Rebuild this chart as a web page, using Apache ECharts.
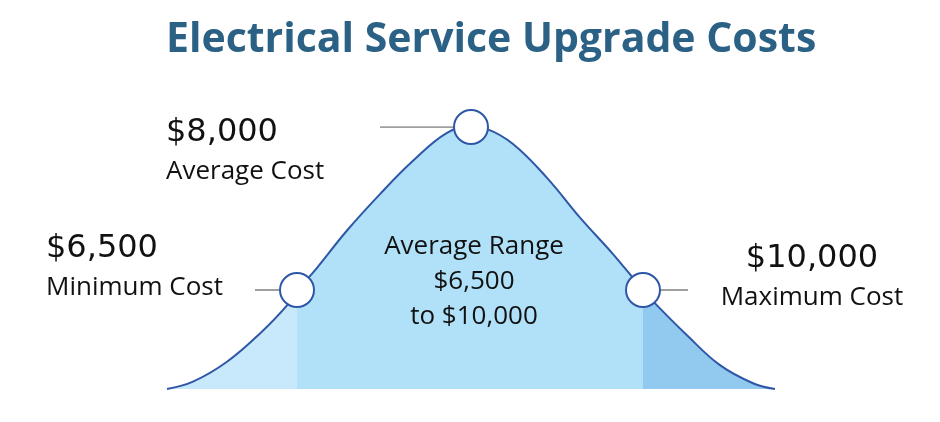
<!DOCTYPE html>
<html>
<head>
<meta charset="utf-8">
<script src="https://cdn.jsdelivr.net/npm/echarts@6/dist/echarts.min.js"></script>
<style>
  html, body { margin: 0; padding: 0; background: #ffffff; }
  #chart { width: 940px; height: 422px; }
</style>
</head>
<body>
<div id="chart"></div>
<script>
// ---- data (x: relative position along the curve, y: relative height, peak = 100)
const curveX = [0, 26, 60, 93, 120, 130, 146, 180, 213, 246, 280, 304, 320, 346, 380, 413, 446, 476, 490, 520, 553, 586, 608];
const curveY = [0, 2.8, 10.4, 21.2, 31.9, 37.8, 44.4, 60.5, 74.4, 87.1, 97.8, 100, 99.2, 93.5, 80.6, 65.4, 51.5, 37.8, 31.9, 20.5, 9.1, 2.2, 0];

const markerX = [130, 304, 476];
const markerY = [37.8, 100, 37.8];
const valueLabels = ['$6,500', '$8,000', '$10,000'];
const nameLabels = ['Minimum Cost', 'Average Cost', 'Maximum Cost'];
const leaderFromX = [88, 213, 476];
const leaderToX = [130, 304, 521];

const titleText = 'Electrical Service Upgrade Costs';
const rangeTitle = 'Average Range';

// ---- build
const curve = curveX.map((x, i) => [x, curveY[i]]);
const FONT = '"Open Sans", "Noto Sans", sans-serif';
const NUMFONT = '"DejaVu Sans", "Open Sans", sans-serif';
const BLUE = '#2f57a7';

const labelPlacement = [
  { position: [-233, -45], align: 'left' },
  { position: [-287, 2], align: 'left' },
  { position: [187, -35], align: 'center' }
];

const markers = markerX.map((x, i) => ({
  value: [x, markerY[i]],
  label: {
    show: true,
    position: labelPlacement[i].position,
    align: labelPlacement[i].align,
    verticalAlign: 'top',
    formatter: '{v|' + valueLabels[i] + '}\n{n|' + nameLabels[i] + '}',
    rich: {
      v: { fontFamily: NUMFONT, fontSize: 32, lineHeight: 44, color: '#111111', align: labelPlacement[i].align },
      n: { fontFamily: FONT, fontSize: 26, lineHeight: 34, color: '#111111', align: labelPlacement[i].align }
    }
  }
}));

const leaders = markerX.map((x, i) => ({
  coords: [[leaderFromX[i], markerY[i]], [leaderToX[i], markerY[i]]]
}));

const chart = echarts.init(document.getElementById('chart'), null, { renderer: 'canvas' });
chart.setOption({
  backgroundColor: '#ffffff',
  animation: false,
  title: {
    text: titleText,
    left: 161,
    top: 15,
    textStyle: { fontFamily: FONT, fontSize: 41, fontWeight: 700, color: '#2a6185' }
  },
  grid: { left: 167, right: 165, top: 127, bottom: 33 },
  xAxis: { type: 'value', min: 0, max: 608, show: false },
  yAxis: { type: 'value', min: 0, max: 100, show: false },
  visualMap: {
    show: false,
    type: 'piecewise',
    dimension: 0,
    seriesIndex: 0,
    pieces: [
      { lt: markerX[0], color: '#c8e8fb' },
      { gte: markerX[0], lte: markerX[2], color: '#b0e1f8' },
      { gt: markerX[2], color: '#92c9ee' }
    ]
  },
  graphic: [{
    type: 'text',
    x: 474,
    y: 229,
    style: {
      text: [rangeTitle, valueLabels[0], 'to ' + valueLabels[2]].join('\n'),
      fontFamily: FONT,
      fontSize: 26,
      lineHeight: 35,
      fill: '#111111',
      textAlign: 'center',
      textVerticalAlign: 'top'
    },
    z: 100
  }],
  series: [
    {
      type: 'line',
      data: curve,
      smooth: 0.4,
      showSymbol: false,
      lineStyle: { width: 0, opacity: 0 },
      areaStyle: { opacity: 1 },
      z: 1,
      silent: true
    },
    {
      type: 'line',
      data: curve,
      smooth: 0.4,
      showSymbol: false,
      lineStyle: { width: 2, color: BLUE },
      itemStyle: { color: BLUE },
      z: 2,
      silent: true
    },
    {
      type: 'lines',
      coordinateSystem: 'cartesian2d',
      data: leaders,
      lineStyle: { color: '#7f7f7f', width: 1.5, opacity: 1 },
      z: 3,
      silent: true
    },
    {
      type: 'scatter',
      data: markers,
      symbol: 'circle',
      symbolSize: 34,
      itemStyle: { color: '#ffffff', borderColor: BLUE, borderWidth: 2, opacity: 1 },
      z: 4,
      silent: true
    }
  ]
});
</script>
</body>
</html>
